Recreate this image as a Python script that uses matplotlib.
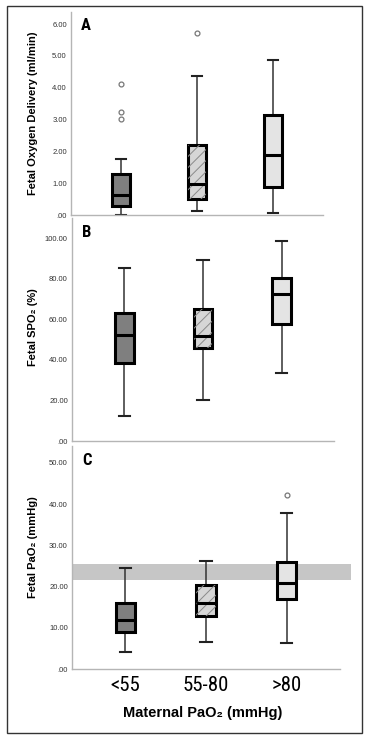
import numpy as np
import matplotlib
matplotlib.use('Agg')
import matplotlib.pyplot as plt
from matplotlib.patches import Rectangle
from matplotlib import font_manager

plt.rcParams['font.family'] = ['Liberation Sans', 'DejaVu Sans']
plt.rcParams['hatch.linewidth'] = 0.7

names = sorted({f.name for f in font_manager.fontManager.ttflist})
NARROW = [n for n in ['Liberation Sans Narrow', 'DejaVu Sans Condensed', 'Roboto Condensed']
          if n in names] + ['Liberation Sans']

groups = ['<55', '55-80', '>80']

# box stats per group: low whisker, Q1, median, Q3, high whisker
a_low = [0.00, 0.14, 0.05]
a_q1 = [0.28, 0.50, 0.87]
a_med = [0.63, 0.99, 1.89]
a_q3 = [1.30, 2.19, 3.13]
a_high = [1.75, 4.38, 4.88]
a_fliers = [[4.11, 3.24, 3.01], [5.72], []]

b_low = [12.1, 20.2, 33.3]
b_q1 = [38.7, 45.7, 57.7]
b_med = [52.1, 51.6, 72.5]
b_q3 = [63.1, 64.9, 80.5]
b_high = [85.2, 89.5, 98.7]
b_fliers = [[], [], []]

c_low = [4.2, 6.6, 6.2]
c_q1 = [8.9, 12.9, 16.9]
c_med = [11.9, 16.1, 20.8]
c_q3 = [16.0, 20.4, 25.9]
c_high = [24.5, 26.2, 37.9]
c_fliers = [[], [], [42.2]]

c_band = (21.6, 25.5)  # normal fetal PaO2 range

box_colors = ['#7f7f7f', '#d6d6d6', '#e4e4e4']

W, H = 366, 739
fig = plt.figure(figsize=(W / 100, H / 100), dpi=100)

def px_axes(left, right, top, bottom):
    return fig.add_axes([left / W, 1 - bottom / H, (right - left) / W, (bottom - top) / H])

def panel(ax, low, q1, med, q3, high, fliers, ymax, yticks):
    stats = [dict(whislo=lo, q1=a, med=m, q3=b, whishi=hi, fliers=f)
             for lo, a, m, b, hi, f in zip(low, q1, med, q3, high, fliers)]
    res = ax.bxp(stats, positions=[1, 2, 3], widths=0.24, capwidths=0.14,
                 patch_artist=True, showfliers=True,
                 boxprops=dict(linewidth=2.2, edgecolor='black'),
                 medianprops=dict(color='black', linewidth=2.2),
                 whiskerprops=dict(color='#333333', linewidth=1.1),
                 capprops=dict(color='#222222', linewidth=1.5),
                 flierprops=dict(marker='o', markersize=3.5, markerfacecolor='none',
                                 markeredgecolor='#777777', markeredgewidth=0.9))
    for box, col in zip(res['boxes'], box_colors):
        box.set_facecolor(col)
        box.set_zorder(3)
    # hatch on middle box
    ax.add_patch(Rectangle((2 - 0.12, q1[1]), 0.24, q3[1] - q1[1], facecolor='none',
                           edgecolor='#8a8a8a', hatch='///', linewidth=0, zorder=3.5))
    for m in res['medians']:
        m.set_zorder(4)
    for w in res['whiskers'] + res['caps']:
        w.set_zorder(2.5)
    ax.set_xlim(0.34, 3.66)
    ax.set_ylim(0, ymax)
    ax.set_yticks(yticks)
    ax.set_yticklabels(['.00' if v == 0 else f'{v:.2f}' for v in yticks])
    ax.tick_params(axis='y', length=0, pad=3, labelsize=5.5, labelcolor='#333333')
    ax.tick_params(axis='x', length=0)
    ax.set_xticks([])
    for s in ['top', 'right']:
        ax.spines[s].set_visible(False)
    for s in ['left', 'bottom']:
        ax.spines[s].set_color('#b5b5b5')
        ax.spines[s].set_linewidth(1.0)
    ax.set_facecolor('none')

axA = px_axes(71, 323, 12, 215)
panel(axA, a_low, a_q1, a_med, a_q3, a_high, a_fliers, 6.38, [0, 1, 2, 3, 4, 5, 6])
axB = px_axes(72, 334, 218, 441)
panel(axB, b_low, b_q1, b_med, b_q3, b_high, b_fliers, 110, [0, 20, 40, 60, 80, 100])
axC = px_axes(72, 340, 446, 669)
panel(axC, c_low, c_q1, c_med, c_q3, c_high, c_fliers, 54.1, [0, 10, 20, 30, 40, 50])

axC.axhspan(c_band[0], c_band[1], xmin=0.0, xmax=1.04, color='#c6c6c6',
            zorder=1, clip_on=False, linewidth=0)

axC.set_xticks([1, 2, 3])
axC.set_xticklabels(groups, fontsize=15, family=NARROW)
axC.tick_params(axis='x', length=0, pad=5)

# panel letters
for ax, letter in zip([axA, axB, axC], ['A', 'B', 'C']):
    ax.text(0.04, 0.935, letter, transform=ax.transAxes, fontsize=12, fontweight='bold',
            family=NARROW, va='center', ha='left')

# y labels
fig.text(33 / W, 1 - 113 / H, 'Fetal Oxygen Delivery (ml/min)', rotation=90,
         ha='center', va='center', fontsize=8, fontweight='bold')
fig.text(33 / W, 1 - 327 / H, 'Fetal SPO\u2082 (%)', rotation=90,
         ha='center', va='center', fontsize=8, fontweight='bold')
fig.text(33 / W, 1 - 547 / H, 'Fetal PaO\u2082 (mmHg)', rotation=90,
         ha='center', va='center', fontsize=8, fontweight='bold')

fig.text(203 / W, 1 - 713 / H, 'Maternal PaO\u2082 (mmHg)', ha='center', va='center',
         fontsize=10.5, fontweight='bold')

# outer frame
fig.add_artist(Rectangle((7 / W, 1 - 733 / H), 355 / W, 727 / H, transform=fig.transFigure,
                         facecolor='none', edgecolor='#333333', linewidth=1.0))

fig.savefig('out.png', dpi=100)
